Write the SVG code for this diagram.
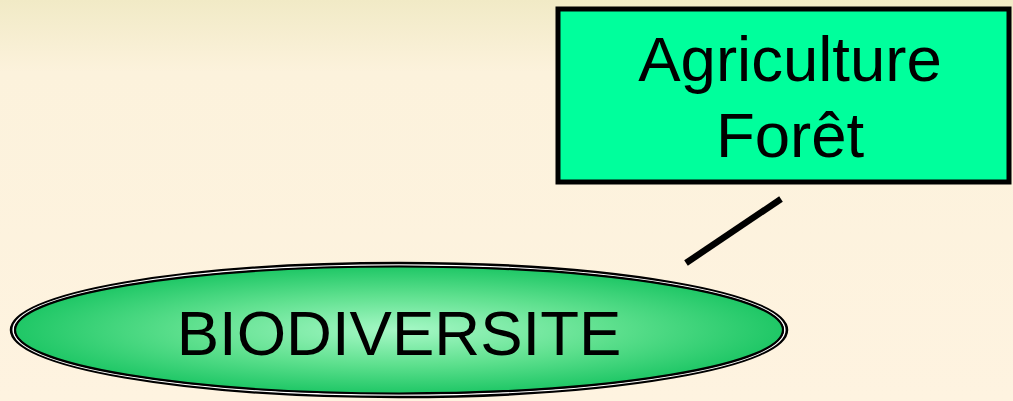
<svg xmlns="http://www.w3.org/2000/svg" width="1013" height="401" viewBox="0 0 1013 401">
  <defs>
    <linearGradient id="bg" x1="0" y1="0" x2="0" y2="1">
      <stop offset="0" stop-color="#F1EAC6"/>
      <stop offset="0.18" stop-color="#FCF2DC"/>
      <stop offset="1" stop-color="#FEF3E0"/>
    </linearGradient>
    <radialGradient id="ell" cx="0.5" cy="0.5" r="0.5">
      <stop offset="0" stop-color="#A6F8C6"/>
      <stop offset="0.55" stop-color="#5EE08E"/>
      <stop offset="1" stop-color="#1FC766"/>
    </radialGradient>
    <style>
      .lbl { font-family: "Liberation Sans", Arial, sans-serif; font-size: 63.5px; fill: #000; text-anchor: middle; }
    </style>
  </defs>
  <rect x="0" y="0" width="1013" height="401" fill="url(#bg)"/>
  <g id="connectors">
    <line x1="686" y1="263" x2="781" y2="199" stroke="#000" stroke-width="6.5"/>
  </g>
  <g id="node-biodiversite">
    <ellipse cx="399" cy="330" rx="388" ry="67" fill="#000" stroke="#000" stroke-width="2.5"/>
    <ellipse cx="399" cy="330" rx="385.8" ry="65" fill="none" stroke="#fff" stroke-width="1.6"/>
    <ellipse cx="399" cy="330" rx="384" ry="63.5" fill="url(#ell)" stroke="#000" stroke-width="2.2"/>
    <text class="lbl" x="399" y="355">BIODIVERSITE</text>
  </g>
  <g id="node-agriculture">
    <rect x="558" y="9" width="451" height="173" fill="#00FF9C" stroke="#000" stroke-width="5"/>
    <text class="lbl" x="790" y="81">Agriculture</text>
    <text class="lbl" x="790" y="157">Forêt</text>
  </g>
</svg>
